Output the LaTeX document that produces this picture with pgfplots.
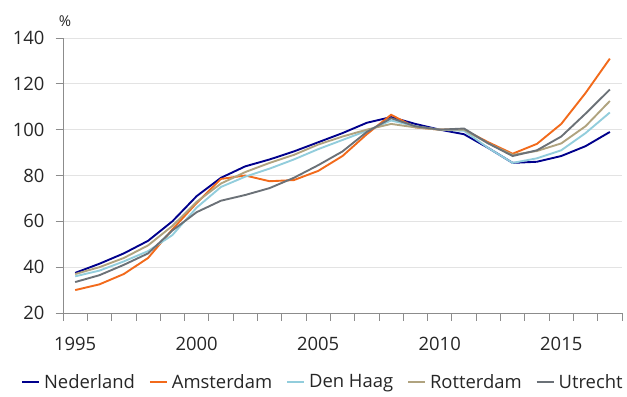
\documentclass[border=0pt]{standalone}
\usepackage{fontspec}
\setmainfont{Open Sans}
\usepackage{pgfplots}
\pgfplotsset{compat=1.18}
\definecolor{cNL}{HTML}{00008C}
\definecolor{cAM}{HTML}{F26A1B}
\definecolor{cDH}{HTML}{92CDDC}
\definecolor{cRO}{HTML}{B0A37F}
\definecolor{cUT}{HTML}{6B7177}
\definecolor{gridc}{HTML}{E3E3E3}
\definecolor{axc}{HTML}{8C8C8C}
\begin{document}
\begin{tikzpicture}
\path[use as bounding box] (0bp,0bp) rectangle (627bp,397bp);
\begin{axis}[
  at={(63bp,84bp)}, anchor=south west,
  scale only axis, width=559bp, height=275bp,
  xmin=1994.5, xmax=2017.5, ymin=20, ymax=140,
  axis lines*=left,
  axis line style={axc, line width=0.8pt},
  ytick={20,40,...,140},
  ymajorgrids, grid style={gridc, line width=0.8pt},
  xtick={1995,2000,2005,2010,2015},
  major x tick style={draw=none},
  minor xtick={1994.5,1995.5,...,2017.5},
  minor x tick style={axc, line width=0.8pt},
  major y tick style={axc, line width=0.8pt},
  tick align=outside, major tick length=7.5bp, minor tick length=7.5bp,
  xticklabel style={/pgf/number format/1000 sep={}, yshift=-13bp},
  yticklabel style={xshift=-7.5bp},
  /pgf/number format/assume math mode=true,
  ticklabel style={font=\fontsize{18.5}{22}\selectfont, text=black!85},
  legend style={at={(rel axis cs:0,0)}, anchor=north west, xshift=-42bp, yshift=-59bp,
    draw=none, fill=none,
    font=\fontsize{18.5}{22}\selectfont, text=black!85, legend columns=-1,
    /tikz/every odd column/.append style={column sep=2bp},
    /tikz/every even column/.append style={column sep=12bp},
    inner sep=0pt},
  legend cell align=left,
  every axis plot/.append style={line width=1.9pt},
  clip=false,
]
\addplot[color=cNL, no markers] coordinates {(1995,37.5)(1996,41.5)(1997,46)(1998,51.5)(1999,60)(2000,71)(2001,79)(2002,84)(2003,87)(2004,90.5)(2005,94.5)(2006,98.5)(2007,103)(2008,105.5)(2009,102.5)(2010,100)(2011,98)(2012,92)(2013,85.5)(2014,86)(2015,88.5)(2016,92.8)(2017,99)};
\addlegendentry{Nederland}
\addplot[color=cAM, no markers] coordinates {(1995,30)(1996,32.5)(1997,37)(1998,44)(1999,56.5)(2000,68)(2001,78.5)(2002,80)(2003,77.5)(2004,78)(2005,82)(2006,88.5)(2007,98)(2008,106.5)(2009,101)(2010,100)(2011,100)(2012,94.5)(2013,89.5)(2014,93.8)(2015,102.5)(2016,116)(2017,131)};
\addlegendentry{Amsterdam}
\addplot[color=cDH, no markers] coordinates {(1995,36)(1996,38.5)(1997,42.5)(1998,47)(1999,54)(2000,66)(2001,75)(2002,79.5)(2003,83)(2004,87)(2005,91.5)(2006,95.5)(2007,99.5)(2008,104)(2009,101.5)(2010,100)(2011,99.5)(2012,92)(2013,85.5)(2014,87.5)(2015,91)(2016,98.5)(2017,107.5)};
\addlegendentry{Den Haag}
\addplot[color=cRO, no markers] coordinates {(1995,37)(1996,40)(1997,44)(1998,49.5)(1999,58)(2000,68.5)(2001,76.5)(2002,81.5)(2003,85.5)(2004,89)(2005,93.5)(2006,97)(2007,100)(2008,102.5)(2009,101)(2010,100)(2011,100)(2012,94)(2013,89)(2014,90.7)(2015,94)(2016,101.5)(2017,112.5)};
\addlegendentry{Rotterdam}
\addplot[color=cUT, no markers] coordinates {(1995,33.5)(1996,36.5)(1997,41)(1998,46)(1999,56)(2000,64)(2001,69)(2002,71.5)(2003,74.5)(2004,79)(2005,84.5)(2006,90.5)(2007,99)(2008,105)(2009,101.5)(2010,100)(2011,100.5)(2012,94)(2013,88.5)(2014,91)(2015,97)(2016,107)(2017,117.5)};
\addlegendentry{Utrecht}
\node[anchor=center, font=\fontsize{15}{18}\selectfont, text=black!85, inner sep=0pt] at (rel axis cs:0,1) [xshift=2bp, yshift=17bp] {\%};
\end{axis}
\end{tikzpicture}
\end{document}
